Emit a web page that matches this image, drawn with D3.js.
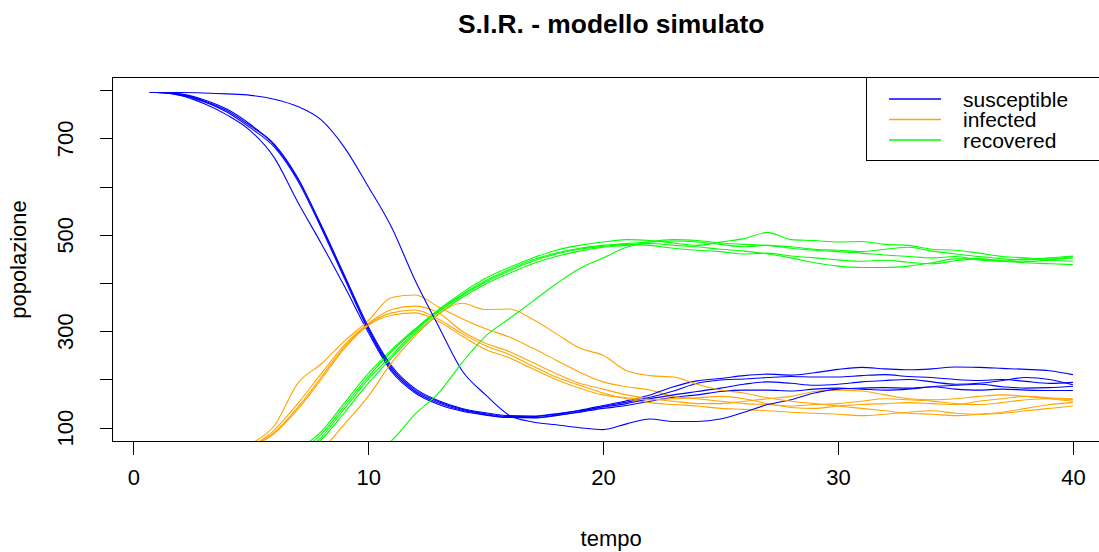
<!DOCTYPE html>
<html>
<head>
<meta charset="utf-8">
<script src="https://cdn.jsdelivr.net/npm/d3@7"></script>
<style>
  html, body { margin: 0; padding: 0; background: #ffffff; }
  svg { display: block; }
  text { font-family: "Liberation Sans", Arial, sans-serif; fill: #000; }
</style>
</head>
<body>
<svg id="chart" width="1099" height="552"></svg>
<script>
// ---------------- DATA ----------------
const chartTitle = "S.I.R. - modello simulato";
const xLabel = "tempo";
const yLabel = "popolazione";
const seriesNames = ["susceptible", "infected", "recovered"];
const seriesColors = ["#0000FF", "#FFA500", "#00FF00"];

const times = [0.7, 1, 2, 3, 4, 5, 6, 7, 8, 9, 10, 11, 12, 13, 14, 15, 16, 17, 18, 19, 20,
               21, 22, 23, 24, 25, 26, 27, 28, 29, 30, 31, 32, 33, 34, 35, 36, 37, 38, 39, 40];

const xTicks = [0, 10, 20, 30, 40];
const yTicks = [100, 200, 300, 400, 500, 600, 700, 800];
const yLabelledTicks = [100, 300, 500, 700];

// susceptible, one array per simulated run
const susceptible = [
  [795,795,789,772,748,715,660,568,482,392,298,216,172,148,134,126,121,120,125,132,140,146,155,163,168,175,178,178,176,180,182,180,178,180,185,188,190,185,182,183,186],
  [795,795,791,778,757,725,688,618,518,412,306,224,178,154,138,129,123,123,128,136,146,156,168,185,197,202,208,211,209,214,221,225,222,220,222,226,225,223,221,218,210],
  [795,795,790,776,754,721,682,612,514,408,303,220,175,151,136,127,121,121,126,133,144,153,163,176,192,199,201,204,206,205,205,208,210,206,204,200,198,200,196,192,194],
  [795,795,792,780,760,728,686,616,520,415,310,228,181,156,140,131,125,124,129,135,143,150,160,168,175,182,190,195,192,188,190,195,198,200,195,190,192,198,204,200,189],
  [795,795,795,794,792,789,781,766,738,680,600,515,405,310,218,168,126,112,106,100,96,108,118,113,113,118,132,148,158,172,180,182,183,182,185,180,178,180,178,177,177]
];

// infected
const infected = [
  [5,5,9,20,40,66,104,192,232,280,322,370,375,350,326,305,288,265,240,215,195,185,178,165,160,155,150,148,145,148,150,155,160,158,155,150,148,152,158,160,158],
  [5,5,8,17,35,60,95,150,212,272,316,345,352,338,300,275,258,235,212,192,180,168,160,155,150,150,155,160,165,175,178,176,168,160,158,160,165,168,165,160,155],
  [5,5,7,15,32,60,90,142,205,268,314,338,344,325,295,270,252,228,205,188,172,160,152,148,145,140,138,135,132,130,128,125,128,132,135,130,128,130,135,140,145],
  [5,5,7,14,30,58,88,138,200,265,312,333,338,320,290,262,245,222,200,182,168,162,158,160,162,165,160,150,142,140,145,148,150,152,150,148,155,160,165,162,160],
  [5,5,5,6,8,12,20,35,55,108,165,235,290,335,358,345,346,325,295,265,250,218,208,205,190,178,172,162,155,150,145,140,135,130,128,125,128,132,140,148,152]
];

// recovered
const recovered = [
  [0,0,1,4,10,20,35,55,92,152,212,262,305,345,380,410,432,452,468,478,485,490,488,483,478,485,492,505,490,488,485,486,480,478,470,468,462,455,452,450,455],
  [0,0,1,3,8,16,28,50,86,146,206,258,303,343,376,405,428,448,462,472,478,482,485,487,485,480,475,478,472,468,465,462,458,455,452,455,448,445,450,447,445],
  [0,0,1,3,7,14,26,45,80,140,200,250,300,340,374,402,425,445,460,470,476,480,478,472,468,465,460,462,456,452,448,445,447,443,440,446,450,445,442,440,438],
  [0,0,1,2,6,12,22,40,75,132,192,245,295,336,370,398,420,440,455,466,474,478,482,478,475,470,466,460,452,442,435,432,432,435,442,450,450,446,444,448,452],
  [0,0,0,0,0,1,2,4,8,14,30,73,128,172,235,290,326,362,398,430,452,474,485,490,488,483,480,478,475,470,468,465,470,474,466,460,455,450,448,452,456]
];

// ---------------- LAYOUT ----------------
const svg = d3.select("#chart");
const plotLeft = 112.5, plotRight = 1109.8, plotTop = 77.5, plotBottom = 441.5;

const x = d3.scaleLinear().domain([-0.885, 41.57]).range([plotLeft, plotRight]);
const y = d3.scaleLinear().domain([71.4, 826]).range([plotBottom, plotTop]);

// clip
svg.append("defs").append("clipPath").attr("id", "plotclip")
  .append("rect")
  .attr("x", plotLeft).attr("y", plotTop)
  .attr("width", plotRight - plotLeft).attr("height", plotBottom - plotTop);

// lines
const line = d3.line().x((d, i) => x(times[i])).y(d => y(d)).curve(d3.curveMonotoneX);
const dataGroup = svg.append("g").attr("clip-path", "url(#plotclip)");
const allSeries = [susceptible, infected, recovered];
for (let r = 0; r < 5; r++) {
  allSeries.forEach((series, s) => {
    dataGroup.append("path")
      .datum(series[r])
      .attr("d", line)
      .attr("fill", "none")
      .attr("stroke", seriesColors[s])
      .attr("stroke-width", 1.1)
      .attr("stroke-linejoin", "round");
  });
}

// plot box
svg.append("rect")
  .attr("x", plotLeft).attr("y", plotTop)
  .attr("width", plotRight - plotLeft).attr("height", plotBottom - plotTop)
  .attr("fill", "none").attr("stroke", "#000").attr("stroke-width", 1)
  .attr("shape-rendering", "crispEdges");

// x axis
const xAxis = d3.axisBottom(x).tickValues(xTicks).tickSize(13).tickPadding(15)
  .tickFormat(d3.format("d"));
const gx = svg.append("g").attr("transform", `translate(0,${plotBottom})`).call(xAxis);
gx.select(".domain").remove();
gx.selectAll(".tick line").attr("stroke", "#000").attr("shape-rendering", "crispEdges");
gx.selectAll(".tick text").attr("font-size", "22px").attr("font-family", "'Liberation Sans', Arial, sans-serif")
  .attr("fill", "#000");

// y axis
const yAxis = d3.axisLeft(y).tickValues(yTicks).tickSize(13)
  .tickFormat(d => yLabelledTicks.includes(d) ? String(d) : "");
const gy = svg.append("g").attr("transform", `translate(${plotLeft},0)`).call(yAxis);
gy.select(".domain").remove();
gy.selectAll(".tick line").attr("stroke", "#000").attr("shape-rendering", "crispEdges");
gy.selectAll(".tick text")
  .attr("font-size", "22px").attr("font-family", "'Liberation Sans', Arial, sans-serif")
  .attr("fill", "#000")
  .attr("x", null).attr("dy", null)
  .attr("text-anchor", "middle")
  .attr("transform", "translate(-40,0) rotate(-90)")
  .attr("y", 0);

// title
svg.append("text")
  .attr("x", (plotLeft + plotRight) / 2).attr("y", 33)
  .attr("text-anchor", "middle")
  .attr("font-size", "26.4px").attr("font-weight", "bold")
  .text(chartTitle);

// x label
svg.append("text")
  .attr("x", (plotLeft + plotRight) / 2).attr("y", 546)
  .attr("text-anchor", "middle")
  .attr("font-size", "22px")
  .text(xLabel);

// y label
svg.append("text")
  .attr("transform", `translate(26,${(plotTop + plotBottom) / 2}) rotate(-90)`)
  .attr("text-anchor", "middle")
  .attr("font-size", "22px")
  .text(yLabel);

// legend
const legend = svg.append("g");
legend.append("rect")
  .attr("x", 866.5).attr("y", plotTop)
  .attr("width", plotRight - 866.5).attr("height", 160.5 - plotTop)
  .attr("fill", "#fff").attr("stroke", "#000").attr("stroke-width", 1)
  .attr("shape-rendering", "crispEdges");
const legendY = [99, 119.5, 140];
seriesNames.forEach((name, i) => {
  legend.append("line")
    .attr("x1", 889).attr("x2", 941)
    .attr("y1", legendY[i]).attr("y2", legendY[i])
    .attr("stroke", seriesColors[i]).attr("stroke-width", 1.4);
  legend.append("text")
    .attr("x", 963).attr("y", legendY[i] + 7.5)
    .attr("font-size", "21px")
    .text(name);
});
</script>
</body>
</html>
